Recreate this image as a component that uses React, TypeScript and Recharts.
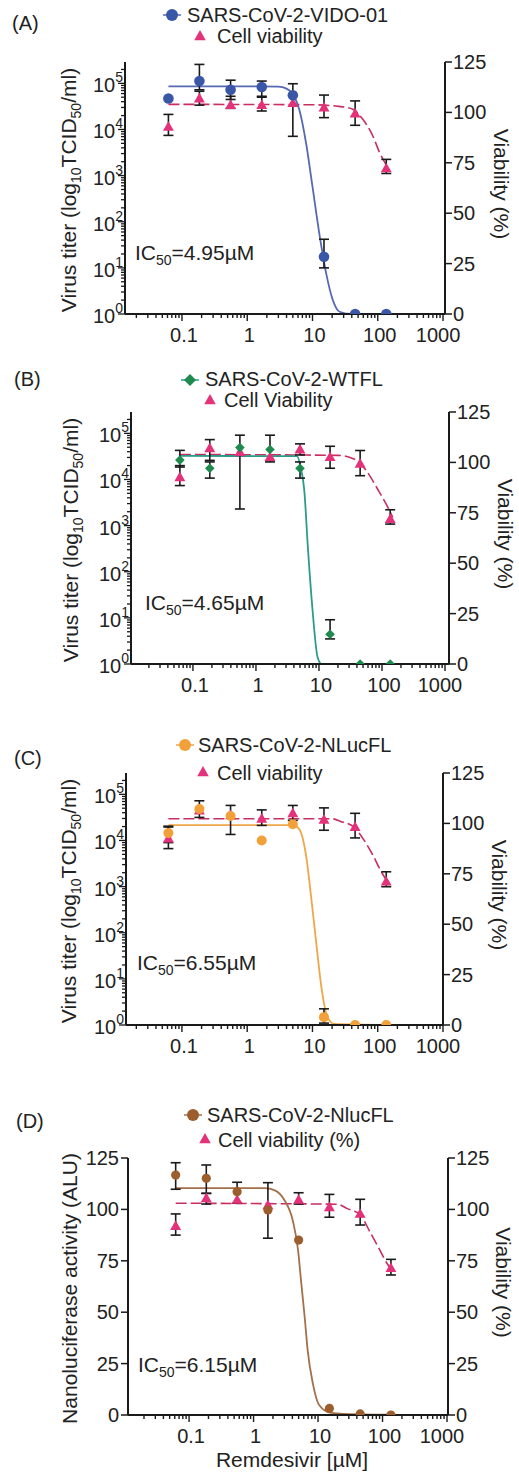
import React from "react"
import { ComposedChart, ErrorBar, Line, Scatter, XAxis, YAxis } from "recharts"

const FONT = '"Liberation Sans", Arial, Helvetica, sans-serif'
const INK = "#1a1a1a"
const PINK = "#e4327a"
const PINK_LINE = "#c82e5e"

// remdesivir concentrations (µM), same 3-fold series in every panel
const conc = [0.062, 0.185, 0.556, 1.67, 5, 15, 45, 135]

const xMajor = [0.1, 1, 10, 100, 1000]
const minorSteps = [2, 3, 4, 5, 6, 7, 8, 9]
const titerMajor = [1, 10, 100, 1000, 10000, 100000]
const percentTicks = [0, 25, 50, 75, 100, 125]

// (A) SARS-CoV-2-VIDO-01
const vidoTiter = [46800, 112000, 72400, 83200, 55000, 17.4, 1, 1]
const vidoLow = [null, 72400, 44700, 50000, 7100, 10, null, null]
const vidoHigh = [null, 257000, 117000, 112000, 98000, 41.7, null, null]
const vidoFitX = [0.062, 1, 3, 4, 4.9, 6.3, 8, 10, 12.7, 16.2, 20.5, 26, 40, 135]
const vidoFitY = [86100, 86100, 85000, 76700, 60300, 26300, 4900, 575, 56, 7.6, 2, 1.12, 1, 1]
const vidoViab = [92.8, 106.9, 103.6, 103.6, 104.6, 102.4, 99.4, 72.2]
const vidoViabLow = [88.6, 103.6, 102, 100.7, null, 97.4, 93.6, 69.7]
const vidoViabHigh = [99, 110.5, 108, 108, null, 108.6, 105.7, 76.7]
const vidoViabFitX = [0.062, 10, 25, 41.5, 59, 84, 107, 135]
const vidoViabFitY = [104, 103.8, 103, 101.6, 96.6, 88.3, 80, 74]

// (B) SARS-CoV-2-WTFL
const wtflTiter = [26300, 17400, 49000, 44700, 17400, 4.4, 1, 1]
const wtflLow = [18600, 10700, 2290, 24000, 10700, 3.5, null, null]
const wtflHigh = [42700, 24000, 91200, 91200, 24000, 9.1, null, null]
const wtflFitX = [0.062, 4.5, 5.1, 5.9, 6.6, 7.9, 9.5, 11, 150]
const wtflFitY = [32400, 32000, 18600, 5000, 417, 15, 1.4, 1, 1]
const wtflViab = [92.6, 107, 105, 102.6, 106.4, 102.6, 99.3, 71.9]
const wtflViabLow = [88.5, 101, null, null, 103.7, 97.1, 93.4, 69.4]
const wtflViabHigh = [98.4, 111.3, null, null, 109.2, 108, 105.9, 76.5]
const wtflViabFitX = [0.062, 20, 36, 56, 85, 124, 148]
const wtflViabFitY = [103.9, 103.5, 101.7, 96, 86.8, 77.7, 72.7]

// (C) SARS-CoV-2-NLucFL titer
const nlucTiter = [14500, 47900, 33900, 10000, 22400, 1.48, 1, 1]
const nlucLow = [9000, 31600, 13500, null, null, 1.1, null, null]
const nlucHigh = [20400, 72400, 57500, null, null, 2.24, null, null]
const nlucFitX = [0.062, 5, 6.3, 8, 9.5, 11.4, 13.6, 17, 21.5, 135]
const nlucFitY = [21400, 21400, 17400, 4570, 631, 62, 7.1, 1.48, 1.05, 1]
const nlucViab = [92.5, 106.4, 104, 102.3, 105, 101.8, 98.2, 71.1]
const nlucViabLow = [87.5, null, null, 99, 101.5, 96.6, 92.8, 68.6]
const nlucViabHigh = [98.2, null, null, 106.7, 108.9, 107.7, 105, 76]
const nlucViabFitX = [0.062, 20, 27, 43, 62, 87, 110, 135]
const nlucViabFitY = [102.3, 102.3, 101, 98.2, 91.6, 83.4, 76.8, 72]

// (D) SARS-CoV-2-NlucFL nanoluciferase
const aluValue = [116.7, 115.1, 108.6, 99.7, 85.1, 3.2, 0.5, 0]
const aluLow = [109.8, 107.8, 103, 86, null, null, null, null]
const aluHigh = [122.7, 121.6, 113.2, 113, null, null, null, null]
const aluFitX = [0.062, 1.5, 2.1, 3, 4.1, 4.9, 5.5, 6.2, 6.9, 8.3, 10.4, 16, 40, 135]
const aluFitY = [110.3, 110.3, 109.4, 104.6, 94, 80.2, 64, 47.8, 31.6, 15.4, 4.9, 1, 0.3, 0.2]
const aluViab = [91.9, 105.4, 104.6, 102, 104.6, 101, 97.8, 71.4]
const aluViabLow = [87.5, 102.6, null, null, 102.6, 96.2, 92.4, 68.1]
const aluViabHigh = [97.8, 107.8, null, null, 108.1, 107.3, 104.9, 75.7]
const aluViabFitX = [0.062, 20, 28, 45, 64, 91, 117, 135]
const aluViabFitY = [103, 102.5, 100.5, 97.4, 89, 80.2, 73.8, 71]

const xTicks = [
  ...minorSteps.map((m) => m * 0.01),
  ...xMajor,
  ...[0.1, 1, 10, 100].flatMap((d) => minorSteps.map((m) => m * d)),
].sort((a, b) => a - b)

const titerTicks = [
  ...titerMajor,
  ...[1, 10, 100, 1000, 10000].flatMap((d) => minorSteps.map((m) => m * d)),
  200000,
].sort((a, b) => a - b)

type Shape = "circle" | "diamond" | "triangle"

function Marker({ shape, cx, cy, color, size }: { shape: Shape; cx: number; cy: number; color: string; size: number }) {
  if (shape === "circle") return <circle cx={cx} cy={cy} r={size} fill={color} />
  if (shape === "diamond")
    return <polygon points={`${cx},${cy - size} ${cx + size},${cy} ${cx},${cy + size} ${cx - size},${cy}`} fill={color} />
  return (
    <polygon
      points={`${cx},${cy - size * 1.1} ${cx + size * 1.05},${cy + size * 0.75} ${cx - size * 1.05},${cy + size * 0.75}`}
      fill={color}
    />
  )
}

const points = (ys: number[], lo: (number | null)[], hi: (number | null)[]) =>
  conc.map((x, i) => ({
    x,
    y: ys[i],
    err: lo[i] == null || hi[i] == null ? undefined : [ys[i] - (lo[i] as number), (hi[i] as number) - ys[i]],
  }))

const curve = (xs: number[], ys: number[]) => xs.map((x, i) => ({ x, y: ys[i] }))

const renderXTick = (props: any) => {
  const { x, y, payload } = props
  const major = xMajor.includes(payload.value)
  // the last label sits a little left so it clears the right axis "0"
  const shift = payload.value === 1000 ? -5 : 2
  return (
    <g>
      <line x1={x} x2={x} y1={y} y2={y + (major ? 7 : 4)} stroke={INK} strokeWidth={1.4} />
      {major && (
        <text x={x + shift} y={y + 28} textAnchor="middle" fontSize={20} fontFamily={FONT} fill="#222">
          {String(payload.value)}
        </text>
      )}
    </g>
  )
}

const renderLogTick = (props: any) => {
  const { x, y, payload } = props
  const idx = titerMajor.indexOf(payload.value)
  const major = idx >= 0
  return (
    <g>
      <line x1={x - (major ? 7 : 4)} x2={x} y1={y} y2={y} stroke={INK} strokeWidth={1.3} />
      {major && (
        <text x={x - 2} y={y + 9} textAnchor="end" fontSize={20} fontFamily={FONT} fill="#222">
          10
          <tspan dy={-10} fontSize={14}>
            {idx}
          </tspan>
        </text>
      )}
    </g>
  )
}

const renderLeftPctTick = (props: any) => {
  const { x, y, payload } = props
  return (
    <g>
      <line x1={x - 7} x2={x} y1={y} y2={y} stroke={INK} strokeWidth={1.5} />
      <text x={x - 9} y={y + 7} textAnchor="end" fontSize={20} fontFamily={FONT} fill="#222">
        {payload.value}
      </text>
    </g>
  )
}

const renderRightTick = (props: any) => {
  const { x, y, payload } = props
  return (
    <g>
      <line x1={x} x2={x + 7} y1={y} y2={y} stroke={INK} strokeWidth={1.5} />
      <text x={x + 8} y={y + 7} textAnchor="start" fontSize={20} fontFamily={FONT} fill="#222">
        {payload.value}
      </text>
    </g>
  )
}

type Panel = {
  id: string
  top: number
  height: number
  plot: { left: number; right: number; top: number; bottom: number }
  xDomain: [number, number]
  logTiter: boolean
  virusName: string
  viabName: string
  shape: Shape
  size: number
  color: string
  curveColor: string
  virus: ReturnType<typeof points>
  virusFit: ReturnType<typeof curve>
  viab: ReturnType<typeof points>
  viabFit: ReturnType<typeof curve>
  label: [number, number]
  leg1: [number, number, number, number]
  leg2: [number, number, number, number]
  ic50: [string, number, number]
  leftTitleX: number
  rightTitleX: number
}

const panels: Panel[] = [
  {
    id: "(A)",
    top: 0,
    height: 360,
    plot: { left: 125, right: 445, top: 62, bottom: 314 },
    xDomain: [0.0134, 1072],
    logTiter: true,
    virusName: "SARS-CoV-2-VIDO-01",
    viabName: "Cell viability",
    shape: "circle",
    size: 5.3,
    color: "#3a57a7",
    curveColor: "#5769b3",
    virus: points(vidoTiter, vidoLow, vidoHigh),
    virusFit: curve(vidoFitX, vidoFitY),
    viab: points(vidoViab, vidoViabLow, vidoViabHigh),
    viabFit: curve(vidoViabFitX, vidoViabFitY),
    label: [12, 30],
    leg1: [172, 15, 187, 22],
    leg2: [200, 36, 217, 43],
    ic50: ["=4.95µM", 135, 260],
    leftTitleX: 76,
    rightTitleX: 494,
  },
  {
    id: "(B)",
    top: 360,
    height: 360,
    plot: { left: 131, right: 449, top: 412, bottom: 664 },
    xDomain: [0.0104, 1157],
    logTiter: true,
    virusName: "SARS-CoV-2-WTFL",
    viabName: "Cell Viability",
    shape: "diamond",
    size: 4.8,
    color: "#1f8a4e",
    curveColor: "#2a9c8c",
    virus: points(wtflTiter, wtflLow, wtflHigh),
    virusFit: curve(wtflFitX, wtflFitY),
    viab: points(wtflViab, wtflViabLow, wtflViabHigh),
    viabFit: curve(wtflViabFitX, wtflViabFitY),
    label: [14, 386],
    leg1: [190, 380, 205, 386],
    leg2: [210, 400, 224, 407],
    ic50: ["=4.65µM", 145, 610],
    leftTitleX: 78,
    rightTitleX: 498,
  },
  {
    id: "(C)",
    top: 720,
    height: 360,
    plot: { left: 126, right: 443, top: 773, bottom: 1025 },
    xDomain: [0.0139, 1000],
    logTiter: true,
    virusName: "SARS-CoV-2-NLucFL",
    viabName: "Cell viability",
    shape: "circle",
    size: 5,
    color: "#f2a13a",
    curveColor: "#f0a64a",
    virus: points(nlucTiter, nlucLow, nlucHigh),
    virusFit: curve(nlucFitX, nlucFitY),
    viab: points(nlucViab, nlucViabLow, nlucViabHigh),
    viabFit: curve(nlucViabFitX, nlucViabFitY),
    label: [14, 765],
    leg1: [185, 745, 198, 752],
    leg2: [203, 772, 217, 780],
    ic50: ["=6.55µM", 137, 970],
    leftTitleX: 76,
    rightTitleX: 492,
  },
  {
    id: "(D)",
    top: 1080,
    height: 394,
    plot: { left: 128, right: 448, top: 1158, bottom: 1415 },
    xDomain: [0.0113, 1036],
    logTiter: false,
    virusName: "SARS-CoV-2-NlucFL",
    viabName: "Cell viability (%)",
    shape: "circle",
    size: 4.6,
    color: "#9c5e2c",
    curveColor: "#a4704a",
    virus: points(aluValue, aluLow, aluHigh),
    virusFit: curve(aluFitX, aluFitY),
    viab: points(aluViab, aluViabLow, aluViabHigh),
    viabFit: curve(aluViabFitX, aluViabFitY),
    label: [16, 1128],
    leg1: [193, 1115, 207, 1122],
    leg2: [205, 1139, 218, 1147],
    ic50: ["=6.15µM", 138, 1372],
    leftTitleX: 77,
    rightTitleX: 496,
  },
]

const X_AXIS_H = 40

function PanelChart({ p }: { p: Panel }) {
  const margin = {
    top: p.plot.top - p.top,
    right: 0,
    left: 0,
    bottom: p.height - (p.plot.bottom - p.top) - X_AXIS_H,
  }
  const axisLine = { stroke: INK, strokeWidth: 2 }
  const virusShape = (s: any) => <Marker shape={p.shape} cx={s.cx} cy={s.cy} color={p.color} size={p.size} />
  const viabShape = (s: any) => <Marker shape="triangle" cx={s.cx} cy={s.cy} color={PINK} size={5.2} />
  const off = p.top
  const midY = (p.plot.top + p.plot.bottom) / 2 - off + 2

  return (
    <div style={{ position: "absolute", left: 0, top: p.top, width: 519, height: p.height }}>
      <ComposedChart width={519} height={p.height} margin={margin}>
        <XAxis
          dataKey="x"
          type="number"
          scale="log"
          domain={p.xDomain}
          allowDataOverflow
          ticks={xTicks}
          interval={0}
          tick={renderXTick}
          tickSize={0}
          tickMargin={0}
          tickLine={false}
          axisLine={axisLine}
          height={X_AXIS_H}
        />
        <YAxis
          yAxisId="left"
          dataKey="y"
          orientation="left"
          type="number"
          scale={p.logTiter ? "log" : "linear"}
          domain={p.logTiter ? [1, 290000] : [0, 125]}
          allowDataOverflow
          ticks={p.logTiter ? titerTicks : percentTicks}
          interval={0}
          tick={p.logTiter ? renderLogTick : renderLeftPctTick}
          tickSize={0}
          tickMargin={0}
          tickLine={false}
          axisLine={axisLine}
          width={p.plot.left}
        />
        <YAxis
          yAxisId="right"
          dataKey="y"
          orientation="right"
          type="number"
          domain={[0, 125]}
          allowDataOverflow
          ticks={percentTicks}
          interval={0}
          tick={renderRightTick}
          tickSize={0}
          tickMargin={0}
          tickLine={false}
          axisLine={axisLine}
          width={519 - p.plot.right}
        />
        <Line
          data={p.viabFit}
          dataKey="y"
          yAxisId="right"
          type="monotone"
          stroke={PINK_LINE}
          strokeWidth={1.6}
          strokeDasharray="11 4"
          dot={false}
          activeDot={false}
          isAnimationActive={false}
        />
        <Line
          data={p.virusFit}
          dataKey="y"
          yAxisId="left"
          type="monotone"
          stroke={p.curveColor}
          strokeWidth={1.8}
          dot={false}
          activeDot={false}
          isAnimationActive={false}
        />
        <Scatter data={p.viab} yAxisId="right" shape={viabShape} isAnimationActive={false}>
          <ErrorBar dataKey="err" direction="y" width={5} stroke={INK} strokeWidth={1.6} isAnimationActive={false} />
        </Scatter>
        <Scatter data={p.virus} yAxisId="left" shape={virusShape} isAnimationActive={false}>
          <ErrorBar dataKey="err" direction="y" width={5} stroke={INK} strokeWidth={1.6} isAnimationActive={false} />
        </Scatter>
      </ComposedChart>

      <svg
        width={519}
        height={p.height}
        style={{ position: "absolute", left: 0, top: 0, pointerEvents: "none" }}
        fontFamily={FONT}
        fill="#222"
      >
        <text x={p.label[0]} y={p.label[1] - off} fontSize={20}>
          {p.id}
        </text>

        <line x1={p.leg1[0] - 9} x2={p.leg1[0] + 9} y1={p.leg1[1] - off} y2={p.leg1[1] - off} stroke={p.curveColor} strokeWidth={1.5} />
        <Marker shape={p.shape} cx={p.leg1[0]} cy={p.leg1[1] - off} color={p.color} size={6} />
        <text x={p.leg1[2]} y={p.leg1[3] - off} fontSize={20}>
          {p.virusName}
        </text>
        <Marker shape="triangle" cx={p.leg2[0]} cy={p.leg2[1] - off} color={PINK} size={5.5} />
        <text x={p.leg2[2]} y={p.leg2[3] - off} fontSize={20}>
          {p.viabName}
        </text>

        <text x={p.ic50[1]} y={p.ic50[2] - off} fontSize={21}>
          IC
          <tspan dy={5} fontSize={14}>
            50
          </tspan>
          <tspan dy={-5}>{p.ic50[0]}</tspan>
        </text>

        <text transform={`translate(${p.leftTitleX}, ${midY}) rotate(-90)`} textAnchor="middle" fontSize={21}>
          {p.logTiter ? (
            <>
              Virus titer (log
              <tspan dy={5} fontSize={14}>
                10
              </tspan>
              <tspan dy={-5}>TCID</tspan>
              <tspan dy={5} fontSize={14}>
                50
              </tspan>
              <tspan dy={-5}>/ml)</tspan>
            </>
          ) : (
            "Nanoluciferase activity (ALU)"
          )}
        </text>

        <text transform={`translate(${p.rightTitleX}, ${midY - 6}) rotate(90)`} textAnchor="middle" fontSize={21}>
          Viability (%)
        </text>

        {!p.logTiter && (
          <text x={292} y={1467 - off} textAnchor="middle" fontSize={21}>
            Remdesivir [µM]
          </text>
        )}
      </svg>
    </div>
  )
}

export default function App() {
  return (
    <div style={{ position: "relative", width: 519, height: 1474, background: "#fff", fontFamily: FONT }}>
      <style>{"body{margin:0}"}</style>
      {panels.map((p) => (
        <PanelChart key={p.id} p={p} />
      ))}
    </div>
  )
}
